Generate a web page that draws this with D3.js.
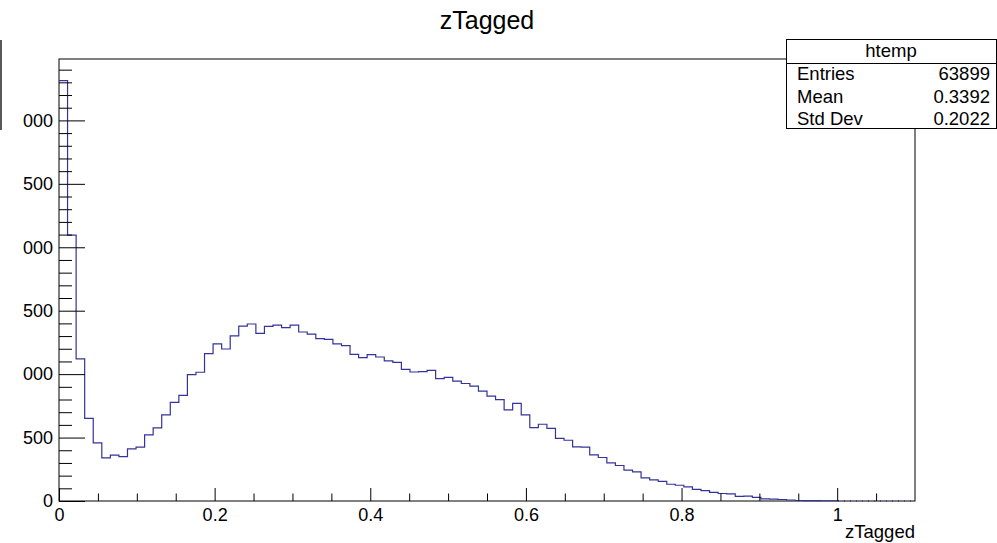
<!DOCTYPE html>
<html>
<head>
<meta charset="utf-8">
<script src="https://cdn.jsdelivr.net/npm/d3@7"></script>
<style>
body { margin: 0; background: #fff; }
svg { display: block; font-family: 'Liberation Sans', Arial, sans-serif; }
</style>
</head>
<body>
<svg id="chart"></svg>
<script>
// zTagged histogram, 100 bins from 0 to 1.1
const counts = [
    3313, 2096, 1120, 652, 458, 340, 361, 350, 411, 424,
    521, 576, 679, 778, 833, 996, 1015, 1161, 1238, 1198,
    1301, 1379, 1395, 1321, 1376, 1387, 1366, 1387, 1332, 1316,
    1280, 1274, 1238, 1224, 1156, 1130, 1154, 1135, 1104, 1093,
    1038, 1017, 1020, 1030, 965, 975, 945, 926, 905, 866,
    826, 799, 718, 770, 679, 579, 605, 573, 494, 479,
    427, 424, 364, 343, 301, 280, 243, 230, 183, 167,
    154, 132, 124, 112, 91, 82, 68, 59, 56, 36,
    38, 28, 17, 15, 12, 8, 4, 3, 3, 2,
    2, 0, 0, 0, 0, 0, 0, 0, 0, 0
]
const xLow = 0
const xHigh = 1.1
const yMax = 3484
const xTicks = [0, 0.2, 0.4, 0.6, 0.8, 1]
const xLabels = ['0', '0.2', '0.4', '0.6', '0.8', '1']
const xMinor = [0.05, 0.1, 0.15, 0.25, 0.3, 0.35, 0.45, 0.5, 0.55, 0.65, 0.7, 0.75, 0.85, 0.9, 0.95, 1.05]
const yTicks = [0, 500, 1000, 1500, 2000, 2500, 3000]
const yLabels = ['0', '500', '000', '500', '000', '500', '000']
const yMinor = [100, 200, 300, 400, 600, 700, 800, 900, 1100, 1200, 1300, 1400, 1600, 1700, 1800, 1900,
    2100, 2200, 2300, 2400, 2600, 2700, 2800, 2900, 3100, 3200, 3300, 3400]
const statNames = ['Entries', 'Mean', 'Std Dev']
const statValues = ['63899', '0.3392', '0.2022']
const histName = 'htemp'
const title = 'zTagged'

const width = 997
const height = 543
const frameLeft = 59, frameRight = 915, frameTop = 59, frameBottom = 501
const lineColor = '#333399'

const svg = d3.select('#chart')
    .attr('width', width)
    .attr('height', height)

const x = d3.scaleLinear().domain([xLow, xHigh]).range([frameLeft, frameRight])
const y = d3.scaleLinear().domain([0, yMax]).range([frameBottom, frameTop])
const binWidth = (xHigh - xLow) / counts.length

// frame
svg.append('rect')
    .attr('x', frameLeft).attr('y', frameTop)
    .attr('width', frameRight - frameLeft).attr('height', frameBottom - frameTop)
    .attr('fill', 'none').attr('stroke', '#000').attr('stroke-width', 1)

// histogram outline (filled bins), then the empty tail
const lastFilled = d3.max(counts.map((c, i) => c > 0 ? i : -1))
const pts = counts.slice(0, lastFilled + 1).map((c, i) => [xLow + i * binWidth, c])
pts.push([xLow + (lastFilled + 1) * binWidth, counts[lastFilled]])
pts.push([xLow + (lastFilled + 1) * binWidth, 0])
const step = d3.line().x((d) => x(d[0])).y((d) => y(d[1])).curve(d3.curveStepAfter)
svg.append('path')
    .attr('d', step(pts))
    .attr('fill', 'none')
    .attr('stroke', lineColor)
    .attr('stroke-width', 1.2)

svg.append('line')
    .attr('x1', x(xLow + (lastFilled + 1) * binWidth)).attr('x2', x(xHigh))
    .attr('y1', y(0)).attr('y2', y(0))
    .attr('stroke', lineColor)
    .attr('stroke-width', 1.5)
    .attr('stroke-dasharray', '1,5')

// axes
const fontSize = 18
const xAxis = d3.axisBottom(x).tickValues(xTicks).tickSize(-13).tickPadding(7)
    .tickFormat((d, i) => xLabels[i])
const xAxisMinor = d3.axisBottom(x).tickValues(xMinor).tickSize(-7.5).tickFormat('')
const yAxis = d3.axisLeft(y).tickValues(yTicks).tickSize(-26).tickPadding(6)
    .tickFormat((d, i) => yLabels[i])
const yAxisMinor = d3.axisLeft(y).tickValues(yMinor).tickSize(-13).tickFormat('')

svg.append('g').attr('transform', `translate(0, ${frameBottom})`).call(xAxis)
svg.append('g').attr('transform', `translate(0, ${frameBottom})`).call(xAxisMinor)
svg.append('g').attr('transform', `translate(${frameLeft}, 0)`).call(yAxis)
svg.append('g').attr('transform', `translate(${frameLeft}, 0)`).call(yAxisMinor)

svg.selectAll('.domain').remove()
svg.selectAll('.tick line').attr('stroke', '#000')
svg.selectAll('.tick text')
    .attr('fill', '#000')
    .attr('font-size', fontSize)
    .attr('font-family', "'Liberation Sans', Arial, sans-serif")

// title and axis title
svg.append('text')
    .attr('x', 487).attr('y', 29)
    .attr('text-anchor', 'middle')
    .attr('font-size', 25)
    .text(title)
svg.append('text')
    .attr('x', frameRight).attr('y', 538)
    .attr('text-anchor', 'end')
    .attr('font-size', 18.5)
    .text(title)

// clipped mark at the left edge
svg.append('line')
    .attr('x1', 1).attr('x2', 1).attr('y1', 40).attr('y2', 130)
    .attr('stroke', '#222').attr('stroke-width', 1.5)

// stats box
const box = svg.append('g')
box.append('rect')
    .attr('x', 786.5).attr('y', 39.5)
    .attr('width', 210).attr('height', 89)
    .attr('fill', '#fff').attr('stroke', '#000').attr('stroke-width', 1)
box.append('line')
    .attr('x1', 786.5).attr('x2', 997).attr('y1', 63.5).attr('y2', 63.5)
    .attr('stroke', '#000')
box.append('text')
    .attr('x', 891).attr('y', 57)
    .attr('text-anchor', 'middle')
    .attr('font-size', 18.5)
    .text(histName)
statNames.forEach((name, i) => {
    box.append('text')
        .attr('x', 797).attr('y', 80 + i * 22.5)
        .attr('font-size', 18.5)
        .text(name)
    box.append('text')
        .attr('x', 990).attr('y', 80 + i * 22.5)
        .attr('text-anchor', 'end')
        .attr('font-size', 18.5)
        .text(statValues[i])
})
</script>
</body>
</html>
